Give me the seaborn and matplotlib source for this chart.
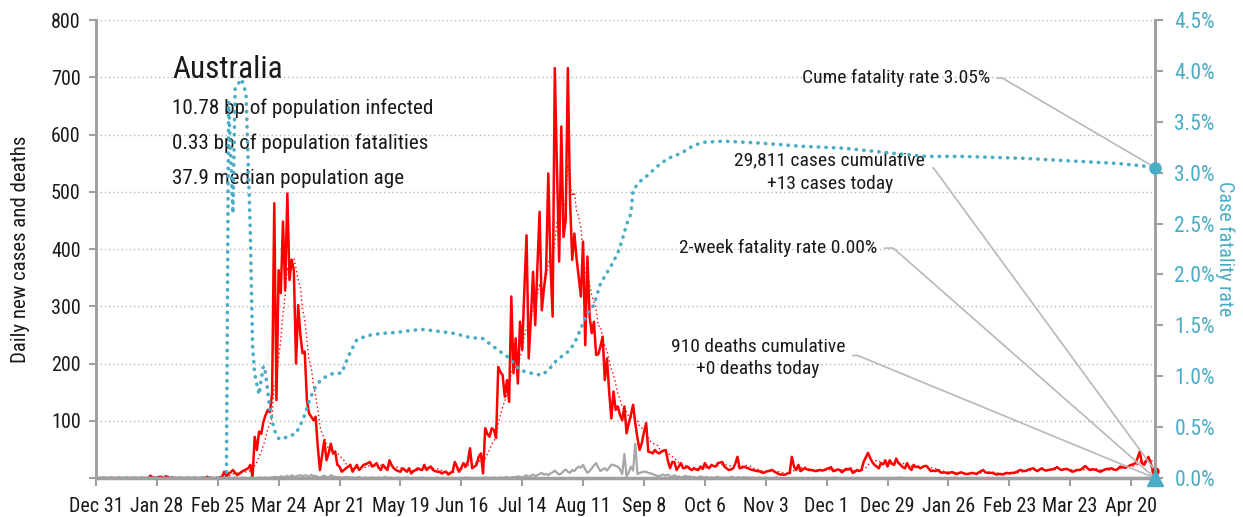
import matplotlib
matplotlib.use("Agg")
import matplotlib.pyplot as plt
import matplotlib.dates as mdates
from matplotlib import font_manager as fm
import numpy as np
import pandas as pd
import seaborn as sns

# ---- data (daily values from Dec 31 2019) ----
cases = (
    # Dec 31 - Feb 24
    [0] * 25
    + [4, 1, 0, 1, 2, 2, 0, 3, 2, 0, 1, 0, 0, 0, 0, 0, 0, 0, 0, 0,
       0, 0, 0, 0, 0, 0, 2, 1, 0, 0, 0]
    # Feb 25 - Apr 30 (first wave)
    + [0, 1, 2, 11, 3, 8, 10, 14, 9, 5,
       8, 11, 13, 15, 17, 23, 2, 72, 49, 81,
       77, 98, 110, 119, 115, 148, 480, 136, 363, 323,
       448, 328, 497, 346, 381, 363, 200, 302, 250, 218,
       221, 136, 113, 107, 101, 107, 55, 14, 40, 66,
       31, 43, 60, 43, 46, 23, 20, 11, 14, 17,
       20, 23, 11, 17, 23, 14]
    # May 1 - Jun 19
    + [18, 23, 24, 26, 28, 20, 22, 26, 18, 14,
       23, 18, 14, 31, 22, 17, 14, 12, 11, 17,
       14, 11, 17, 8, 12, 14, 17, 15, 14, 23,
       14, 18, 20, 14, 12, 11, 11, 8, 10, 11,
       6, 9, 11, 28, 20, 11, 18, 26, 20, 28]
    # Jun 20 - Aug 26 (second wave)
    + [52, 17, 20, 23, 37, 43, 8, 87, 77, 72,
       87, 84, 70, 194, 185, 180, 142, 171, 133, 317,
       183, 244, 165, 273, 224, 330, 424, 209, 280, 360,
       267, 370, 465, 293, 330, 363, 532, 375, 282, 716,
       540, 378, 614, 421, 450, 716, 486, 381, 427, 384,
       350, 317, 413, 232, 387, 282, 253, 273, 215, 216,
       230, 247, 171, 209, 150, 104, 151, 119]
    # Aug 27 - Nov 28
    + [125, 110, 101, 125, 78, 96, 110, 128, 96, 70,
       49, 61, 80, 96, 46, 45, 43, 49, 45, 43,
       46, 48, 49, 30, 17, 28, 28, 14, 20, 26,
       17, 18, 20, 16, 14, 17, 15, 14, 20, 16,
       26, 20, 17, 23, 21, 20, 26, 27, 28, 20,
       17, 14, 15, 17, 25, 37, 17, 18, 20, 18,
       17, 15, 14, 13, 12, 12, 10, 9, 11, 12,
       13, 14, 11, 9, 7, 6, 6, 6, 8, 9,
       37, 20, 14, 23, 12, 15, 17, 15, 14, 14,
       13, 12, 13, 14]
    # Nov 29 - May 1
    + [13, 14, 16, 17, 19, 12, 13, 15, 14, 10,
       13, 16, 15, 17, 9, 11, 14, 12, 14, 28,
       36, 44, 35, 28, 23, 20, 17, 26, 24, 31,
       20, 31, 25, 23, 34, 26, 23, 19, 17, 26,
       18, 14, 23, 19, 20, 17, 19, 21, 21, 16,
       12, 13, 12, 14, 11, 9, 10, 9, 8, 10,
       10, 8, 7, 9, 10, 8, 7, 7, 8, 9,
       8, 7, 10, 12, 14, 10, 9, 9, 9, 8,
       6, 7, 7, 6, 8, 9, 8, 9, 9, 10,
       12, 14, 13, 12, 13, 15, 16, 17, 14, 12,
       15, 17, 14, 13, 14, 15, 15, 17, 19, 16,
       14, 15, 16, 15, 13, 11, 12, 14, 14, 15,
       18, 21, 17, 14, 15, 15, 14, 12, 11, 13,
       15, 16, 16, 17, 15, 14, 16, 20, 19, 18,
       19, 21, 23, 24, 26, 35, 46, 26, 23, 30,
       37, 26, 14, 13]
)

deaths = (
    [0] * 61
    + [1, 0, 0, 1, 0, 0, 0, 1, 0, 0,
       1, 0, 0, 0, 1, 0, 0, 1, 0, 1,
       1, 2, 2, 1, 3, 2, 2, 4, 1, 5,
       2, 3, 4, 5, 3, 5, 4, 2, 6, 3,
       4, 2, 1, 3, 4, 2, 1, 5, 3, 2,
       1, 2, 0, 1, 2, 1, 1, 1, 0, 1,
       2, 0, 0, 1, 0, 0, 1, 0, 0, 1,
       0, 0, 2, 0, 1, 0, 0, 0, 1, 0]
    + [0, 0, 1, 0, 0, 0, 0, 0, 0, 1,
       0, 0, 0, 0, 0, 0, 1, 0, 0, 0,
       0, 0, 0, 0, 0, 0, 0, 0, 0, 1,
       0, 0, 0, 0, 0, 0, 0, 0, 1, 0,
       0, 0, 1, 0, 0]
    + [1, 0, 1, 2, 0, 1, 2, 1, 3, 2,
       1, 3, 5, 2, 4, 6, 3, 5, 7, 9,
       6, 7, 5, 8, 10, 13, 9, 6, 8, 12,
       15, 11, 9, 14, 12, 17, 20, 18, 23, 15,
       9, 12, 17, 22, 26, 18, 12, 15, 17, 13,
       18, 23, 23, 21, 20, 15, 7, 42, 3, 10,
       20, 13, 60, 7, 9, 10, 11, 11, 9, 8,
       7, 5, 4, 3, 5, 6, 4, 6, 3, 2,
       5, 2, 3, 1, 2, 4, 2, 3, 1, 2,
       0, 1, 3, 1, 1, 2, 0, 1, 0, 1,
       2, 0, 1, 0, 1]
    + [0, 2, 1, 0, 1, 1, 0, 2, 0, 1,
       0, 1, 0, 0, 1, 0, 0, 1, 0, 0,
       0, 0, 1, 0, 0, 0, 0, 0, 0, 0]
    + [0] * 19 + [1] + [0] * 29 + [1] + [0] * 24 + [1] + [0] * 64 + [1] + [0] * 27
)

# case fatality rate (%), read at selected days
cfr_days = [0, 60, 61, 62, 63, 64, 65, 66, 67, 68, 69, 70, 71, 72, 73, 74, 75,
            76, 77, 78, 79, 80, 81, 82, 84, 86, 88, 90, 92, 94, 96, 98, 100,
            102, 104, 106, 108, 110, 113, 115, 117, 120, 125, 131, 138, 145,
            150, 158, 165, 172, 178, 181, 186, 190, 192, 195, 200, 205, 208,
            212, 217, 220, 224, 226, 229, 232, 237, 240, 242, 244, 246, 247,
            250, 254, 258, 263, 269, 275, 280, 289, 306, 324, 344, 367, 382,
            398, 413, 428, 444, 453, 470, 480, 487]
cfr_pct = [0, 0, 3.70, 3.15, 2.60, 3.83, 3.86, 3.89, 3.92, 3.85, 3.78, 3.10,
           2.40, 1.30, 1.02, 0.92, 0.82, 0.97, 1.10, 1.03, 0.85, 0.67, 0.57,
           0.47, 0.39, 0.38, 0.41, 0.42, 0.44, 0.52, 0.62, 0.75, 0.86, 0.93,
           0.97, 1.00, 1.02, 1.03, 1.03, 1.14, 1.24, 1.36, 1.40, 1.42, 1.43,
           1.45, 1.46, 1.44, 1.42, 1.38, 1.37, 1.32, 1.24, 1.18, 1.13, 1.06,
           1.03, 1.01, 1.06, 1.16, 1.24, 1.32, 1.52, 1.62, 1.70, 1.91, 2.09,
           2.21, 2.34, 2.49, 2.60, 2.83, 2.91, 2.98, 3.06, 3.14, 3.19, 3.27,
           3.30, 3.31, 3.29, 3.26, 3.24, 3.19, 3.16, 3.16, 3.15, 3.14, 3.12,
           3.11, 3.09, 3.07, 3.05]

two_week_cfr = 0.0

tick_labels = ["Dec 31", "Jan 28", "Feb 25", "Mar 24", "Apr 21", "May 19",
               "Jun 16", "Jul 14", "Aug 11", "Sep 8", "Oct 6", "Nov 3",
               "Dec 1", "Dec 29", "Jan 26", "Feb 23", "Mar 23", "Apr 20"]

country = "Australia"
info_lines = ["10.78 bp of population infected",
              "0.33 bp of population fatalities",
              "37.9 median population age"]
txt_cume = "Cume fatality rate 3.05%"
txt_cases = "29,811 cases cumulative\n+13 cases today"
txt_2wk = "2-week fatality rate 0.00%"
txt_deaths = "910 deaths cumulative\n+0 deaths today"

# ---- frames ----
start = pd.Timestamp("2019-12-31")
dates = pd.date_range(start, periods=len(cases), freq="D")
df = pd.DataFrame({"date": dates, "cases": cases, "deaths": deaths})
df["avg7"] = df["cases"].rolling(7, min_periods=1).mean()
cfr = pd.DataFrame({"date": start + pd.to_timedelta(cfr_days, unit="D"),
                    "cfr": np.array(cfr_pct) / 100})

RED = "#ff0000"
GREY = "#a6a6a6"
TEAL = "#4bacc6"
SPINE = "#a0a0a0"
INK = "#1a1a1a"

sns.set_style("white")

# pick a narrow face if one is installed
faces = {(f.name, f.stretch) for f in fm.fontManager.ttflist}
names = {n for n, _ in faces}
stretch = "normal"
if "Liberation Sans Narrow" in names:
    family = "Liberation Sans Narrow"
elif "Roboto Condensed" in names:
    family = "Roboto Condensed"
elif ("Roboto", "condensed") in faces:
    family, stretch = "Roboto", "condensed"
elif ("DejaVu Sans", "condensed") in faces:
    family, stretch = "DejaVu Sans", "condensed"
elif ("DejaVu Sans", "semi-condensed") in faces:
    family, stretch = "DejaVu Sans", "semi-condensed"
else:
    family = "Roboto"
plt.rcParams["font.family"] = [family, "DejaVu Sans"]
plt.rcParams["font.stretch"] = stretch

fig = plt.figure(figsize=(12.43, 5.17), dpi=100)
ax = fig.add_axes([0.0772, 0.0754, 0.852, 0.8859])
ax2 = ax.twinx()

sns.lineplot(data=df, x="date", y="deaths", color=GREY, lw=1.6, ax=ax, errorbar=None)
sns.lineplot(data=df, x="date", y="avg7", color=RED, lw=1.0, ax=ax, errorbar=None,
             linestyle=(0, (1, 2)))
sns.lineplot(data=df, x="date", y="cases", color=RED, lw=1.8, ax=ax, errorbar=None)
sns.lineplot(data=cfr, x="date", y="cfr", color=TEAL, lw=2.6, ax=ax2, errorbar=None,
             linestyle=(0, (0.1, 2.0)), dash_capstyle="round")

last = df["date"].iloc[-1]
ax.plot([last], [df["cases"].iloc[-1]], "o", color=RED, ms=5, clip_on=False, zorder=5)
ax.plot([last], [df["deaths"].iloc[-1]], "o", color=GREY, ms=5, clip_on=False, zorder=5)
ax2.plot([last], [cfr["cfr"].iloc[-1]], "o", color=TEAL, ms=8, clip_on=False, zorder=6)
ax2.plot([last], [two_week_cfr / 100], "^", color=TEAL, ms=11, clip_on=False, zorder=6)

# ---- axes ----
ax.set_xlim(dates[0], last)
ax.set_ylim(0, 800)
ax2.set_ylim(0, 0.045)

ticks = pd.date_range(start, periods=len(tick_labels), freq="28D")
ax.set_xticks(ticks)
ax.set_xticklabels(tick_labels)
ax.set_yticks(range(0, 801, 100))
ax.set_yticklabels([""] + [str(v) for v in range(100, 801, 100)])
ax2.set_yticks(np.arange(0, 0.0451, 0.005))
ax2.set_yticklabels([f"{v * 100:.1f}%" for v in np.arange(0, 0.0451, 0.005)])

ax.set_xlabel("")
ax.set_ylabel("Daily new cases and deaths", fontsize=15, color=INK, labelpad=15)
ax2.set_ylabel("Case fatality rate", fontsize=14.5, color=TEAL, rotation=270, labelpad=14)

ax.yaxis.grid(True, linestyle=(0, (1, 2)), color="#b5b5b5", lw=1)
ax.xaxis.grid(False)
ax2.grid(False)

for a in (ax, ax2):
    a.spines["top"].set_visible(False)
    for s in ("left", "right", "bottom"):
        a.spines[s].set_color(SPINE)
        a.spines[s].set_linewidth(2)
ax.spines["bottom"].set_linewidth(2.5)

ax.tick_params(axis="x", colors=SPINE, labelcolor=INK, labelsize=14.5,
               length=6, width=1.5, direction="out", bottom=True, pad=8)
ax.tick_params(axis="y", colors=SPINE, labelcolor=INK, labelsize=14.5,
               length=5, width=1.5, direction="out", left=True, pad=6)
ax2.tick_params(axis="y", colors=SPINE, labelcolor=TEAL, labelsize=15.5,
                length=6, width=1.5, direction="out", right=True, pad=8)

# ---- text ----
ax.text(0.0718, 0.891, country, transform=ax.transAxes, fontsize=22.5,
        color=INK, ha="left", va="center")
for i, line in enumerate(info_lines):
    ax.text(0.0718, 0.808 - i * 0.0765, line, transform=ax.transAxes,
            fontsize=15.2, color=INK, ha="left", va="center")

lead = dict(arrowstyle="-", color="#b8b8b8", lw=1.2, shrinkA=3, shrinkB=0)

ax2.annotate(txt_cume, xy=(mdates.date2num(last), cfr["cfr"].iloc[-1]),
             xytext=(0.844, 0.873), textcoords="axes fraction",
             ha="right", va="center", fontsize=14, color=INK,
             arrowprops=dict(lead, relpos=(1, 0.5),
                             connectionstyle="angle,angleA=0,angleB=-30.4,rad=0"))
ax.annotate(txt_cases, xy=(mdates.date2num(last), df["cases"].iloc[-1]),
            xytext=(0.693, 0.668), textcoords="axes fraction",
            ha="center", va="center", multialignment="center",
            fontsize=14, color=INK, linespacing=1.35,
            arrowprops=dict(lead, relpos=(1, 0.6),
                            connectionstyle="angle,angleA=0,angleB=-53.8,rad=0"))
ax2.annotate(txt_2wk, xy=(mdates.date2num(last), two_week_cfr / 100),
             xytext=(0.738, 0.502), textcoords="axes fraction",
             ha="right", va="center", fontsize=14, color=INK,
             arrowprops=dict(lead, relpos=(1, 0.5),
                             connectionstyle="angle,angleA=0,angleB=-41.3,rad=0"))
ax.annotate(txt_deaths, xy=(mdates.date2num(last), df["deaths"].iloc[-1]),
            xytext=(0.625, 0.262), textcoords="axes fraction",
            ha="center", va="center", multialignment="center",
            fontsize=14, color=INK, linespacing=1.35,
            arrowprops=dict(lead, relpos=(1, 0.56),
                            connectionstyle="angle,angleA=0,angleB=-22.4,rad=0"))

fig.savefig("out.png", dpi=100)
